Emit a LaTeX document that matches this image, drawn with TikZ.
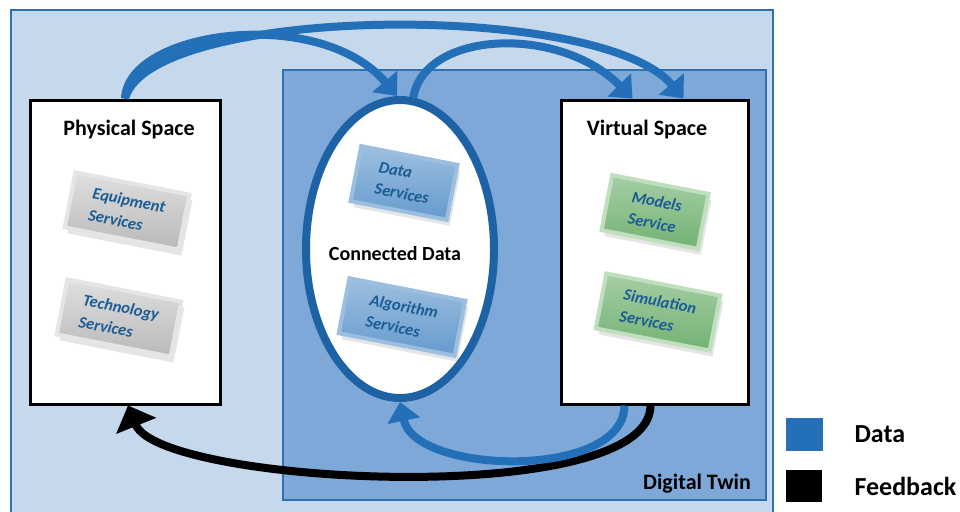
\documentclass[tikz,border=0pt]{standalone}
\usepackage{fontspec}
\setmainfont{Carlito}
\usepackage{xcolor}
\usepackage{tikz}
\usetikzlibrary{arrows.meta,shadows,shapes.geometric}

\definecolor{outerbg}{HTML}{C5D8EC}
\definecolor{innerbg}{HTML}{7DA8D7}
\definecolor{frameblue}{HTML}{2E72B5}
\definecolor{flowblue}{HTML}{2470B8}
\definecolor{ringblue}{HTML}{1E62A6}
\definecolor{tiletext}{HTML}{1B5C94}

\begin{document}
\begin{tikzpicture}[x=1pt,y=-1pt,
  space/.style={rectangle,draw=black,line width=3pt,fill=white,inner sep=0pt,
    minimum height=304pt},
  title/.style={font=\fontsize{22}{24}\selectfont\bfseries},
  tile/.style={rectangle,rotate=-11,inner sep=0pt,minimum height=56pt,
    line width=4pt,align=left,text=tiletext,
    font=\fontsize{16.5}{22}\selectfont\bfseries\itshape,
    drop shadow={opacity=0.2,shadow xshift=3pt,shadow yshift=-6pt}},
  greytile/.style={tile,draw=gray!20,top color=gray!25,bottom color=gray!55},
  bluetile/.style={tile,draw=flowblue!45,top color=flowblue!45,bottom color=flowblue!70},
  greentile/.style={tile,draw=green!50!black!25,top color=green!45!black!35,bottom color=green!45!black!55},
  flow/.style={draw=flowblue,line width=8pt,-{Triangle[width=32pt,length=19pt]}},
  back/.style={draw=black,line width=8pt,-{Triangle[width=42pt,length=22pt]}},
  legbox/.style={rectangle,minimum width=36pt,minimum height=32pt,inner sep=0pt}]

\clip (0,0) rectangle (960,511);
\fill[white] (0,0) rectangle (960,511);

% frames
\draw[fill=outerbg,draw=frameblue,line width=1.5pt] (11,10) rectangle (773,530);
\draw[fill=innerbg,draw=frameblue,line width=1.5pt] (283,70) rectangle (766,500);

% spaces
\node[space,minimum width=190pt] (phys) at (125,252) {};
\node[space,minimum width=187pt] (virt) at (654.5,252) {};
\node[ellipse,draw=ringblue,line width=8pt,fill=white,inner sep=0pt,
  minimum width=188pt,minimum height=298pt] (ell) at (400,249) {};

\node[title] (physt) at (129,130) {Physical Space};
\node[title] (virtt) at (647,130) {Virtual Space};
\node[font=\fontsize{20}{22}\selectfont\bfseries] (cd) at (395,254) {Connected Data};

% services
\node[greytile,minimum width=116pt] (eq) at (127,211) {Equipment\\Services};
\node[greytile,minimum width=116pt] (tech) at (119,318) {Technology\\Services};
\node[bluetile,minimum width=98pt] (ds) at (404,183) {Data\\Services};
\node[bluetile,minimum width=118pt] (alg) at (402,317) {Algorithm\\Services};
\node[greentile,minimum width=98pt] (mod) at (655,212) {Models\\Service};
\node[greentile,minimum width=116pt] (sim) at (658,312) {Simulation\\Services};

% data flows
\draw[flow] (phys.north) .. controls (128,30) and (320,5) .. ([xshift=-3]ell.north);
\draw[flow] (phys.north) .. controls (150,5) and (600,0) .. ([xshift=29]virt.north);
\draw[flow] (ell.85) .. controls (425,30) and (560,25) .. ([xshift=-22]virt.north);

% feedback
\draw[back] ([xshift=-4]virt.south) .. controls (650,510) and (160,485) .. ([xshift=3]phys.south);
\draw[flow] ([xshift=-30]virt.south) .. controls (624,480) and (415,475) .. (ell.south);

\node[font=\fontsize{22}{24}\selectfont\bfseries] (dt) at (697,484) {Digital Twin};

% legend
\node[legbox,fill=flowblue,draw=frameblue] (ld) at (804,434) {};
\node[legbox,fill=black] (lf) at (804,486) {};
\node[font=\fontsize{26}{28}\selectfont\bfseries,anchor=west] (ldt) at (851,434) {Data};
\node[font=\fontsize{26}{28}\selectfont\bfseries,anchor=west] (lft) at (851,486) {Feedback};

\end{tikzpicture}
\end{document}
